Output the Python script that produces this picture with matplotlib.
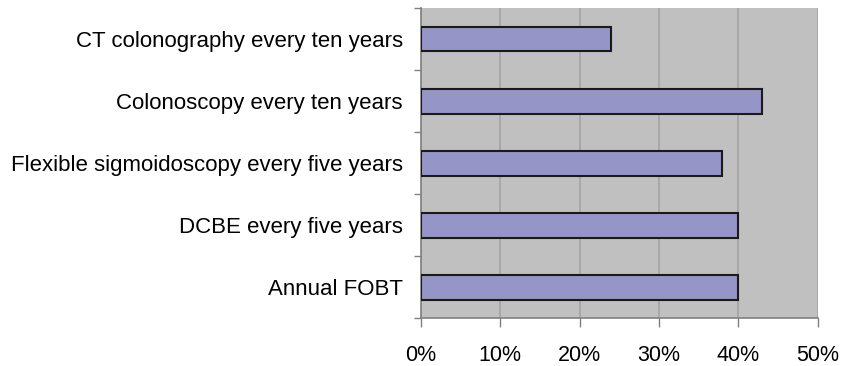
import matplotlib.pyplot as plt
from matplotlib.ticker import FuncFormatter, FixedLocator

plt.rcParams['font.family'] = ['Liberation Sans', 'DejaVu Sans']

# screening options, bottom to top
tests = ['Annual FOBT', 'DCBE every five years',
         'Flexible sigmoidoscopy every five years',
         'Colonoscopy every ten years', 'CT colonography every ten years']
shares = [40, 40, 38, 43, 24]

fig = plt.figure(figsize=(8.42, 3.66), dpi=100)
ax = fig.add_axes([420.7 / 842, 1 - 318.3 / 366, 397 / 842, 310.3 / 366])
ax.set_facecolor('#c0c0c0')

ypos = list(range(len(tests)))
ax.barh(ypos, shares, height=0.4, color='#9595c8', edgecolor='#1a1a1a',
        linewidth=1.5, zorder=3)

ax.set_xlim(0, 50)
ax.set_ylim(-0.5, len(tests) - 0.5)
ax.set_xticks(range(0, 51, 10))
ax.xaxis.set_major_formatter(FuncFormatter(lambda v, p: f'{v:.0f}%'))
ax.xaxis.grid(True, color='#a4a4a4', linewidth=1.2, zorder=0)

# category boundaries get the tick marks, names sit between them
ax.set_yticks([y - 0.5 for y in range(len(tests) + 1)])
ax.set_yticklabels([])
ax.yaxis.set_minor_locator(FixedLocator(ypos))
ax.set_yticklabels(tests, minor=True)
ax.tick_params(axis='y', which='minor', length=0, pad=13, labelsize=16)
ax.tick_params(axis='y', which='major', length=5, color='#808080', width=1)
ax.tick_params(axis='x', length=6.5, color='#808080', width=1, pad=12.5,
               labelsize=15.5)

for side in ('top', 'right'):
    ax.spines[side].set_visible(False)
for side in ('left', 'bottom'):
    ax.spines[side].set_color('#808080')
    ax.spines[side].set_linewidth(1.2)

fig.savefig('out.png', dpi=100)
